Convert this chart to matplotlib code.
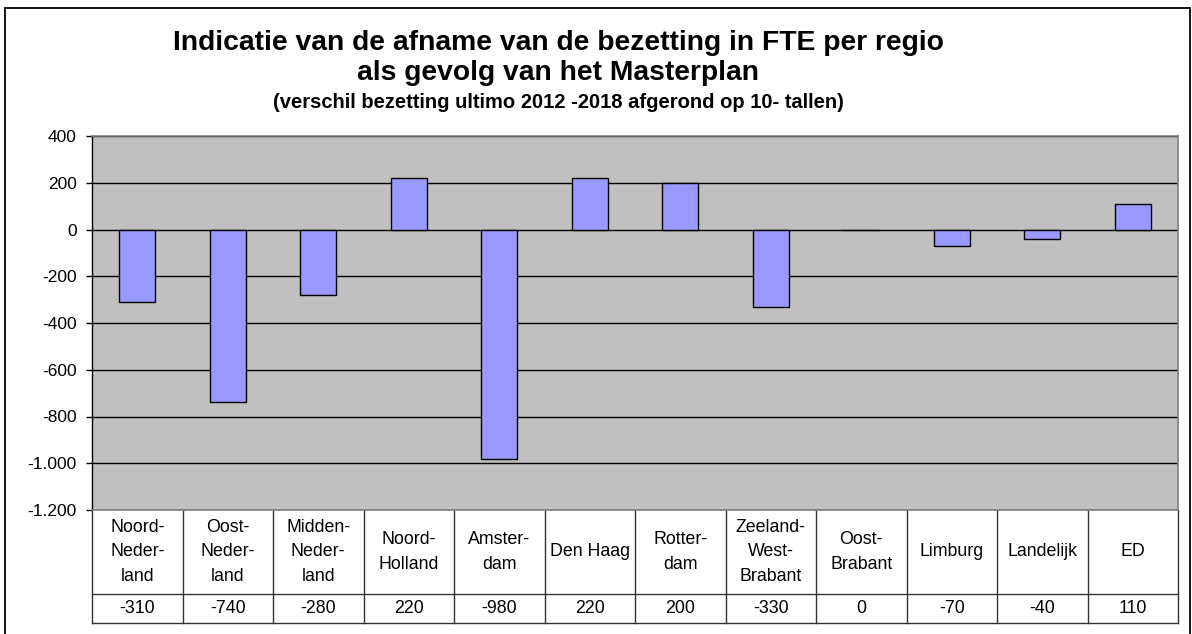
import matplotlib
matplotlib.use("Agg")
import matplotlib.pyplot as plt
from matplotlib.patches import Rectangle
from matplotlib.transforms import blended_transform_factory

plt.rcParams['font.family'] = ['Liberation Sans', 'DejaVu Sans']

categories = ["Noord-\nNeder-\nland", "Oost-\nNeder-\nland", "Midden-\nNeder-\nland",
              "Noord-\nHolland", "Amster-\ndam", "Den Haag", "Rotter-\ndam",
              "Zeeland-\nWest-\nBrabant", "Oost-\nBrabant", "Limburg", "Landelijk", "ED"]
values = [-310, -740, -280, 220, -980, 220, 200, -330, 0, -70, -40, 110]
value_labels = ["-310", "-740", "-280", "220", "-980", "220", "200", "-330", "0", "-70", "-40", "110"]
yticks = [400, 200, 0, -200, -400, -600, -800, -1000, -1200]
ytick_labels = ["400", "200", "0", "-200", "-400", "-600", "-800", "-1.000", "-1.200"]

W, H = 1192, 634
fig = plt.figure(figsize=(W / 100, H / 100), dpi=100)

# outer chart frame
fig.patches.append(Rectangle((5 / W, -0.05), 1185 / W, 1.05 - 8 / H,
                             transform=fig.transFigure, fill=False,
                             edgecolor='black', linewidth=1.3, zorder=0))

left, right, top, bottom = 92, 1178, 136, 510
ax = fig.add_axes([left / W, 1 - bottom / H, (right - left) / W, (bottom - top) / H])
ax.set_facecolor('#C0C0C0')

x = list(range(len(values)))
ax.bar(x, values, width=0.4, color='#9999FF', edgecolor='black', linewidth=1.0, zorder=3)

ax.set_xlim(-0.5, len(values) - 0.5)
ax.set_ylim(-1200, 400)
ax.set_yticks(yticks)
ax.set_yticklabels(ytick_labels, fontsize=12.5)
ax.set_xticks([])
ax.yaxis.grid(True, color='black', linewidth=1.0, zorder=1)
ax.set_axisbelow(True)
ax.tick_params(axis='y', direction='out', length=4, width=1, color='black', pad=7)
for s in ['top', 'right', 'bottom']:
    ax.spines[s].set_color('#808080')
    ax.spines[s].set_linewidth(1.2)
ax.spines['left'].set_color('black')
ax.spines['left'].set_linewidth(1.0)

# data table below the axes
tr = blended_transform_factory(ax.transData, ax.transAxes)
ah = bottom - top
row1 = -(594 - bottom) / ah
row2 = -(623 - bottom) / ah
lc = '#333333'
n = len(values)
for yy in [row1, row2]:
    ax.plot([-0.5, n - 0.5], [yy, yy], transform=tr, color=lc, lw=1, clip_on=False)
for i in range(n + 1):
    ax.plot([i - 0.5, i - 0.5], [0, row2], transform=tr, color=lc, lw=1, clip_on=False)
for i in range(n):
    ax.text(i, row1 / 2, categories[i], transform=tr, ha='center', va='center',
            fontsize=12.8, linespacing=1.55)
    ax.text(i, (row1 + row2) / 2, value_labels[i], transform=tr, ha='center', va='center',
            fontsize=12.8)

# titles
cx = 558 / W
fig.text(cx, 1 - 43 / H, "Indicatie van de afname van de bezetting in FTE per regio",
         ha='center', va='center', fontsize=20.3, fontweight='bold')
fig.text(cx, 1 - 73 / H, "als gevolg van het Masterplan",
         ha='center', va='center', fontsize=20.3, fontweight='bold')
fig.text(cx, 1 - 102 / H, "(verschil bezetting ultimo 2012 -2018 afgerond op 10- tallen)",
         ha='center', va='center', fontsize=14.5, fontweight='bold')

fig.savefig("out.png", dpi=100)
